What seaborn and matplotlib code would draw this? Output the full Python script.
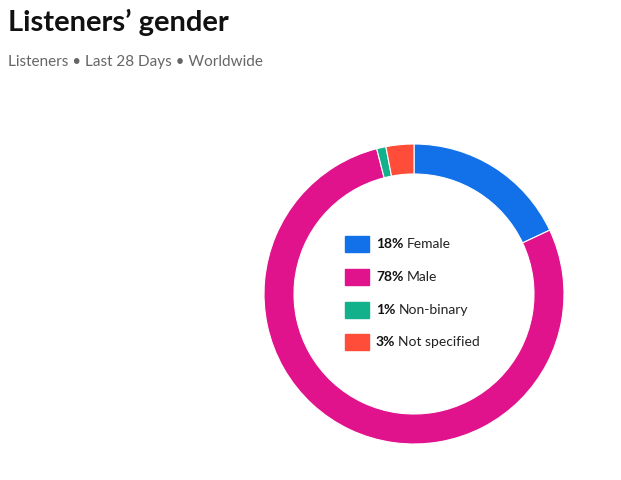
import matplotlib
matplotlib.use("Agg")
import matplotlib.pyplot as plt
import seaborn as sns

categories = ["Female", "Male", "Non-binary", "Not specified"]
values = [18, 78, 1, 3]
colors = ["#1271E8", "#E0128C", "#12B18C", "#FF4D3A"]

sns.set_theme(style="white")
plt.rcParams['font.family'] = ['Lato', 'DejaVu Sans']

W, H = 621, 480
fig = plt.figure(figsize=(W/100, H/100), dpi=100)
fig.patch.set_facecolor("white")

cx, cy, r = 414, 294, 150
ax = fig.add_axes([(cx-r)/W, 1-(cy+r)/H, 2*r/W, 2*r/H])
ax.pie(values, colors=colors, startangle=90, counterclock=False,
       wedgeprops=dict(width=30/150, edgecolor="white", linewidth=0.8), radius=1)
ax.set_aspect("equal")
ax.set_xlim(-1, 1); ax.set_ylim(-1, 1)
ax.axis("off")

fig.text(8/W, 1-22/H, "Listeners’ gender", fontsize=21, fontweight="bold",
         color="#111111", va="center", ha="left")
fig.text(8/W, 1-62/H, "Listeners • Last 28 Days • Worldwide", fontsize=11,
         color="#666666", va="center", ha="left")

fig.canvas.draw()
renderer = fig.canvas.get_renderer()
rows = [244, 277, 310, 342]
for cat, v, c, y in zip(categories, values, colors, rows):
    fig.patches.append(plt.Rectangle((345/W, 1-(y+8)/H), 24/W, 16/H,
                                     transform=fig.transFigure, color=c))
    t = fig.text(376/W, 1-y/H, f"{v}%", fontsize=10, fontweight="bold",
                 color="#111111", va="center", ha="left")
    bb = t.get_window_extent(renderer)
    fig.text((bb.x1+3)/W, 1-y/H, cat, fontsize=10, color="#222222",
             va="center", ha="left")

fig.savefig("out.png", dpi=100, facecolor="white")
